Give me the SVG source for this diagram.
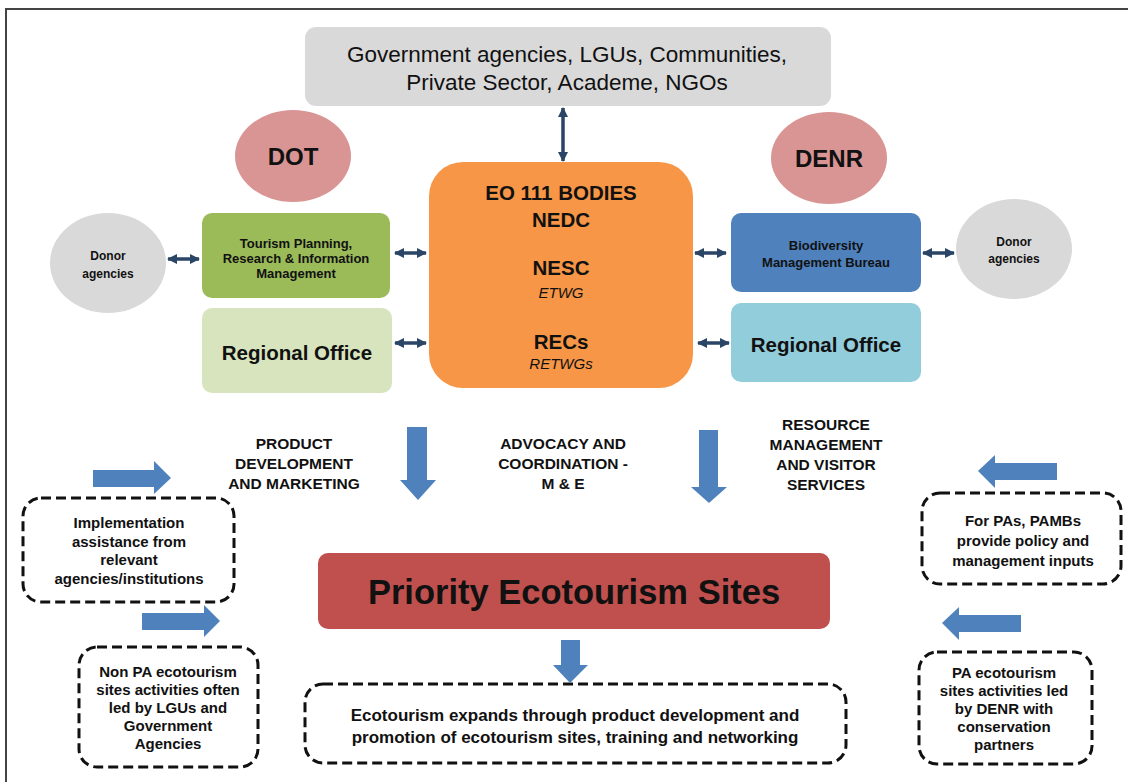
<svg xmlns="http://www.w3.org/2000/svg" width="1128" height="782" viewBox="0 0 1128 782">
<defs>
<marker id="ah" viewBox="0 0 10 10" refX="9" refY="5" markerWidth="10" markerHeight="10" markerUnits="userSpaceOnUse" orient="auto-start-reverse">
<path d="M0,0 L10,5 L0,10 z" fill="#2a4566"/>
</marker>
<style>
text{font-family:"Liberation Sans",Arial,sans-serif;fill:#111;text-anchor:middle;font-weight:bold}
.dbl{stroke:#2a4566;stroke-width:3.5;fill:none;marker-start:url(#ah);marker-end:url(#ah)}
.blk{fill:#4f81bd}
.dash{fill:#fff;stroke:#111;stroke-width:3;stroke-dasharray:10 5}
.s12{font-size:12px}
.s13{font-size:13px}
.s15{font-size:15px}
.lbl{font-size:15.5px}
.s20{font-size:20.5px}
.it{font-size:15px;font-weight:normal;font-style:italic}
</style>
</defs>
<rect width="1128" height="782" fill="#fff"/>
<path d="M6,782 V9 H1128" fill="none" stroke="#444" stroke-width="2"/>

<g id="stakeholders">
<rect x="305" y="27" width="526" height="79" rx="11" fill="#d9d9d9"/>
<text x="567" y="62" style="font-size:22.5px;font-weight:normal">Government agencies, LGUs, Communities,</text>
<text x="567" y="90" style="font-size:22.5px;font-weight:normal">Private Sector, Academe, NGOs</text>
</g>

<g id="dot">
<ellipse cx="293" cy="156" rx="58" ry="46" fill="#d99594"/>
<text x="293" y="165" style="font-size:24px">DOT</text>
</g>
<g id="denr">
<ellipse cx="829" cy="158" rx="58" ry="46" fill="#d99594"/>
<text x="829" y="167" style="font-size:24px">DENR</text>
</g>

<g id="tourism-planning">
<rect x="202" y="213" width="188" height="85" rx="10" fill="#9bbb59"/>
<text class="s13" x="296" y="248">Tourism Planning,</text>
<text class="s13" x="296" y="263">Research &amp; Information</text>
<text class="s13" x="296" y="278">Management</text>
</g>
<g id="dot-regional">
<rect x="202" y="308" width="190" height="85" rx="10" fill="#d7e4bd"/>
<text class="s20" x="297" y="360">Regional Office</text>
</g>
<g id="donor-left">
<ellipse cx="108" cy="263" rx="58" ry="50" fill="#d9d9d9"/>
<text class="s12" x="108" y="260">Donor</text>
<text class="s12" x="108" y="278">agencies</text>
</g>

<g id="eo111">
<rect x="429" y="162" width="264" height="226" rx="34" fill="#f79646"/>
<text class="s20" x="561" y="200">EO 111 BODIES</text>
<text class="s20" x="561" y="227">NEDC</text>
<text class="s20" x="561" y="275">NESC</text>
<text class="it" x="561" y="298">ETWG</text>
<text class="s20" x="561" y="349">RECs</text>
<text class="it" x="561" y="369">RETWGs</text>
</g>

<g id="bmb">
<rect x="731" y="213" width="190" height="79" rx="10" fill="#4f81bd"/>
<text class="s13" x="826" y="250">Biodiversity</text>
<text class="s13" x="826" y="267">Management Bureau</text>
</g>
<g id="denr-regional">
<rect x="731" y="303" width="190" height="79" rx="10" fill="#92cddc"/>
<text class="s20" x="826" y="352">Regional Office</text>
</g>
<g id="donor-right">
<ellipse cx="1014" cy="249" rx="58" ry="50" fill="#d9d9d9"/>
<text class="s12" x="1014" y="246">Donor</text>
<text class="s12" x="1014" y="263">agencies</text>
</g>

<g id="label-product">
<text class="lbl" x="294" y="449">PRODUCT</text>
<text class="lbl" x="294" y="469">DEVELOPMENT</text>
<text class="lbl" x="294" y="489">AND MARKETING</text>
</g>
<g id="label-advocacy">
<text class="lbl" x="563" y="449">ADVOCACY AND</text>
<text class="lbl" x="563" y="469">COORDINATION -</text>
<text class="lbl" x="563" y="489">M &amp; E</text>
</g>
<g id="label-resource">
<text class="lbl" x="826" y="430">RESOURCE</text>
<text class="lbl" x="826" y="450">MANAGEMENT</text>
<text class="lbl" x="826" y="470">AND VISITOR</text>
<text class="lbl" x="826" y="490">SERVICES</text>
</g>

<g id="implementation">
<rect class="dash" x="23" y="498" width="211" height="104" rx="18"/>
<text class="s15" x="129" y="528">Implementation</text>
<text class="s15" x="129" y="547">assistance from</text>
<text class="s15" x="129" y="565">relevant</text>
<text class="s15" x="129" y="584">agencies/institutions</text>
</g>
<g id="non-pa">
<rect class="dash" x="79" y="647" width="179" height="120" rx="18"/>
<text class="s15" x="168" y="677">Non PA ecotourism</text>
<text class="s15" x="168" y="695">sites activities often</text>
<text class="s15" x="168" y="713">led by LGUs and</text>
<text class="s15" x="168" y="731">Government</text>
<text class="s15" x="168" y="749">Agencies</text>
</g>

<g id="priority-sites">
<rect x="318" y="553" width="512" height="76" rx="10" fill="#c0504d"/>
<text x="574" y="604" style="font-size:34.5px">Priority Ecotourism Sites</text>
</g>

<g id="ecotourism-expands">
<rect class="dash" x="305" y="684" width="541" height="79" rx="18"/>
<text x="575" y="721" style="font-size:17px">Ecotourism expands through product development and</text>
<text x="575" y="743" style="font-size:17px">promotion of ecotourism sites, training and networking</text>
</g>

<g id="pambs">
<rect class="dash" x="922" y="493" width="199" height="91" rx="18"/>
<text class="s15" x="1023" y="526">For PAs, PAMBs</text>
<text class="s15" x="1023" y="546">provide policy and</text>
<text class="s15" x="1023" y="566">management inputs</text>
</g>
<g id="pa-sites">
<rect class="dash" x="919" y="652" width="173" height="112" rx="18"/>
<text class="s15" x="1004" y="678">PA ecotourism</text>
<text class="s15" x="1004" y="696">sites activities led</text>
<text class="s15" x="1004" y="714">by DENR with</text>
<text class="s15" x="1004" y="732">conservation</text>
<text class="s15" x="1004" y="750">partners</text>
</g>

<g id="connectors">
<line class="dbl" x1="563" y1="108" x2="563" y2="161"/>
<line class="dbl" x1="168" y1="259" x2="199" y2="259"/>
<line class="dbl" x1="395" y1="253" x2="426" y2="253"/>
<line class="dbl" x1="395" y1="343" x2="426" y2="343"/>
<line class="dbl" x1="695" y1="253" x2="726" y2="253"/>
<line class="dbl" x1="698" y1="343" x2="729" y2="343"/>
<line class="dbl" x1="923" y1="253" x2="954" y2="253"/>
<polygon class="blk" points="407,427 427,427 427,480 436,480 418,500 400,480 407,480"/>
<polygon class="blk" points="699,430 718,430 718,487 727,487 709,503 691,487 699,487"/>
<polygon class="blk" points="561,640 580,640 580,665 588,665 570,683 553,665 561,665"/>
<polygon class="blk" points="93,470 154,470 154,461 171,478 154,494 154,487 93,487"/>
<polygon class="blk" points="142,613 204,613 204,605 220,621 204,637 204,630 142,630"/>
<polygon class="blk" points="1057,463 995,463 995,455 978,471 995,488 995,480 1057,480"/>
<polygon class="blk" points="1021,615 959,615 959,607 942,623 959,640 959,632 1021,632"/>
</g>
</svg>
